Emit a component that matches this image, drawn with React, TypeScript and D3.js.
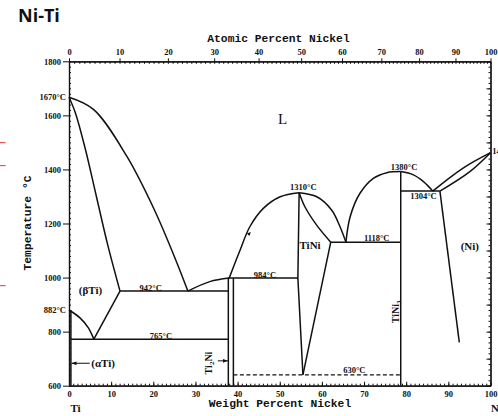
// Ni-Ti binary phase diagram, redrawn with D3.
import { useEffect, useRef } from "react";
import * as d3 from "d3";

type Pt = [number, number]; // [weight % Ni, temperature °C]

const WIDTH = 498;
const HEIGHT = 416;

// axis ticks
const WEIGHT_MAJOR = d3.range(0, 101, 10);
const WEIGHT_MINOR = d3.range(0, 101, 1);
const ATOMIC_MAJOR = d3.range(0, 101, 10);
const ATOMIC_MINOR = d3.range(0, 101, 1);
const TEMP_MAJOR = [600, 800, 1000, 1200, 1400, 1600, 1800];
const TEMP_MINOR = d3.range(600, 1801, 20);
const TEMP_RIGHT_MAJOR = d3.range(600, 1801, 100);

// phase boundaries
const tiLiquidus: Pt[] = [[0, 1667], [5.8, 1622], [13.7, 1449], [20.3, 1249], [25.3, 1066], [28.2, 950]];
const betaSolidus: Pt[] = [[0, 1667], [1.5, 1610], [3.8, 1480], [6.5, 1300], [9.2, 1120], [12.1, 950]];
const betaTransus: Pt[] = [[0, 880], [2.6, 851], [4.6, 814], [5.9, 772]];
const betaSolvus: Pt[] = [[5.9, 772], [12.1, 950]];
const alphaSolvus: Pt[] = [[0.45, 880], [0.45, 600]];
const eutectoid765: Pt[] = [[0.45, 772], [37.8, 772]];
const eutectic942: Pt[] = [[12.1, 950], [37.8, 950]];
const ti2NiLiquidus: Pt[] = [[28.2, 950], [33.4, 985], [38.0, 998]];
const ti2NiLeft: Pt[] = [[37.8, 998], [37.8, 600]];
const ti2NiRight: Pt[] = [[39.0, 998], [39.0, 600]];
const peritectic984: Pt[] = [[37.8, 998], [54.3, 998]];
const tiNiLiquidusLeft: Pt[] = [[38.0, 998], [40.6, 1102], [42.9, 1188], [46.1, 1256], [50.1, 1299], [54.6, 1314]];
const tiNiLiquidusRight: Pt[] = [[54.6, 1314], [58.8, 1299], [62.3, 1250], [64.3, 1188], [65.7, 1131]];
const tiNiLeft: Pt[] = [[54.6, 1314], [54.3, 998], [55.5, 640]];
const tiNiRightUpper: Pt[] = [[54.6, 1314], [56.0, 1261], [58.8, 1193], [62.1, 1131]];
const tiNiRightLower: Pt[] = [[62.1, 1131], [55.5, 640]];
const eutectic1118: Pt[] = [[62.1, 1131], [78.7, 1131]];
const tiNi3LiquidusLeft: Pt[] = [[65.7, 1131], [66.7, 1225], [69.0, 1311], [72.2, 1367], [75.4, 1388], [78.7, 1392]];
const tiNi3LiquidusRight: Pt[] = [[78.7, 1392], [81.7, 1380], [84.1, 1355], [86.3, 1320]];
const tiNi3Line: Pt[] = [[78.7, 1392], [78.7, 600]];
const eutectic1304: Pt[] = [[78.7, 1320], [88.0, 1320]];
const niSolvus: Pt[] = [[88.0, 1320], [92.6, 760]];
const niLiquidus: Pt[] = [[86.3, 1320], [93.5, 1405], [100, 1462]];
const niSolidus: Pt[] = [[88.0, 1320], [95.1, 1392], [100, 1462]];
const dashed630: Pt[] = [[39.0, 640], [78.7, 640]];

const curves: Pt[][] = [
  tiLiquidus, betaSolidus, betaTransus, ti2NiLiquidus, tiNiLiquidusLeft,
  tiNiLiquidusRight, tiNiRightUpper, tiNi3LiquidusLeft, tiNi3LiquidusRight,
  niLiquidus, niSolidus,
];
const straights: Pt[][] = [
  betaSolvus, alphaSolvus, eutectoid765, eutectic942, ti2NiLeft, ti2NiRight,
  peritectic984, tiNiLeft, tiNiRightLower, eutectic1118, tiNi3Line,
  eutectic1304, niSolvus,
];

// small labels: [text, w, T]
const isoLabels: [string, number, number][] = [
  ["942°C", 19.4, 960],
  ["765°C", 21.8, 782],
  ["984°C", 46.5, 1008],
  ["1310°C", 55.6, 1334],
  ["1118°C", 73.0, 1145],
  ["1380°C", 79.5, 1410],
  ["1304°C", 84.1, 1303],
  ["630°C", 67.7, 658],
];
const phaseLabels: [string, number, number][] = [
  ["(βTi)", 5.1, 954],
  ["TiNi", 57.2, 1120],
  ["(Ni)", 95.1, 1117],
  ["(αTi)", 8.1, 683],
];
const edgeLabels: [string, number][] = [["1670°C", 1667], ["882°C", 880]];
const redMarks = [1499, 1414, 970];

// atomic % Ni -> weight % Ni
const NI = 58.69;
const TI = 47.87;
const atToWt = (a: number) => (100 * a * NI) / (a * NI + (100 - a) * TI);

export default function App() {
  const svgRef = useRef<SVGSVGElement | null>(null);

  useEffect(() => {
    const svg = d3.select(svgRef.current);
    svg.selectAll("*").remove();

    const x = d3.scaleLinear().domain([0, 100]).range([69, 490.5]);
    const y = d3.scaleLinear().domain([600, 1800]).range([385.7, 61.3]);
    const serif = "'Liberation Serif', serif";
    const mono = "'Liberation Mono', monospace";

    svg.append("rect").attr("width", WIDTH).attr("height", HEIGHT).attr("fill", "#fff");

    const defs = svg.append("defs");
    defs
      .append("marker")
      .attr("id", "arr")
      .attr("viewBox", "0 0 8 6")
      .attr("refX", 8)
      .attr("refY", 3)
      .attr("markerWidth", 5)
      .attr("markerHeight", 4)
      .attr("orient", "auto")
      .append("path")
      .attr("d", "M0,0L8,3L0,6Z")
      .attr("fill", "#111");

    const styleAxis = (g: d3.Selection<SVGGElement, unknown, null, undefined>) => {
      g.attr("font-family", serif).attr("font-size", 8.5).attr("font-weight", "bold");
      g.selectAll("line").attr("stroke", "#111");
      g.selectAll("path").attr("stroke", "#111").attr("stroke-width", 1.2);
      g.selectAll("text").attr("fill", "#111");
    };

    // bottom (weight %)
    svg.append("g").attr("transform", "translate(0,385.7)")
      .call(d3.axisBottom(x).tickValues(WEIGHT_MINOR).tickSizeInner(-2).tickSizeOuter(0).tickFormat(() => ""))
      .call(styleAxis);
    svg.append("g").attr("transform", "translate(0,385.7)")
      .call(d3.axisBottom(x).tickValues(WEIGHT_MAJOR).tickSizeInner(-4).tickSizeOuter(0).tickPadding(5).tickFormat((d) => String(d)))
      .call(styleAxis);

    // top (atomic %)
    const xTop = (a: number) => atToWt(a);
    svg.append("g").attr("transform", "translate(0,61.3)")
      .call(d3.axisTop(x).tickValues(ATOMIC_MINOR.map(xTop)).tickSizeInner(-2.5).tickSizeOuter(0).tickFormat(() => ""))
      .call(styleAxis);
    svg.append("g").attr("transform", "translate(0,61.3)")
      .call(d3.axisTop(x).tickValues(ATOMIC_MAJOR.map(xTop)).tickSizeInner(3).tickSizeOuter(0).tickPadding(3)
        .tickFormat((_, i) => String(ATOMIC_MAJOR[i])))
      .call(styleAxis);

    // left (temperature)
    svg.append("g").attr("transform", "translate(69,0)")
      .call(d3.axisLeft(y).tickValues(TEMP_MINOR).tickSizeInner(-2).tickSizeOuter(0).tickFormat(() => ""))
      .call(styleAxis);
    svg.append("g").attr("transform", "translate(69,0)")
      .call(d3.axisLeft(y).tickValues(TEMP_MAJOR).tickSizeInner(6).tickSizeOuter(0).tickPadding(2).tickFormat((d) => String(d)))
      .call(styleAxis);

    // right
    svg.append("g").attr("transform", "translate(490.5,0)")
      .call(d3.axisRight(y).tickValues(TEMP_MINOR).tickSizeInner(-2).tickSizeOuter(0).tickFormat(() => ""))
      .call(styleAxis);
    svg.append("g").attr("transform", "translate(490.5,0)")
      .call(d3.axisRight(y).tickValues(TEMP_RIGHT_MAJOR).tickSizeInner(-4).tickSizeOuter(0).tickFormat(() => ""))
      .call(styleAxis);

    const smooth = d3.line<Pt>().x((d) => x(d[0])).y((d) => y(d[1])).curve(d3.curveCatmullRom.alpha(0.5));
    const straight = d3.line<Pt>().x((d) => x(d[0])).y((d) => y(d[1]));

    const lines = svg.append("g").attr("fill", "none").attr("stroke", "#111").attr("stroke-width", 1.5);
    for (const c of curves) lines.append("path").attr("d", smooth(c));
    for (const s of straights) lines.append("path").attr("d", straight(s));
    lines.append("path").attr("d", straight(dashed630)).attr("stroke-dasharray", "4,2.5").attr("stroke-width", 1.3);

    // arrow on the TiNi liquidus
    const ax = x(42.2), ay = y(1163);
    svg.append("path")
      .attr("d", `M${ax},${ay}l4,-1.5l-1.5,4z`)
      .attr("fill", "#111");

    // pointer arrows
    svg.append("line")
      .attr("x1", x(4.9)).attr("x2", x(0.6)).attr("y1", y(683)).attr("y2", y(683))
      .attr("stroke", "#111").attr("stroke-width", 1).attr("marker-end", "url(#arr)");
    svg.append("line")
      .attr("x1", x(35.3)).attr("x2", x(37.7)).attr("y1", y(692)).attr("y2", y(692))
      .attr("stroke", "#111").attr("stroke-width", 1).attr("marker-end", "url(#arr)");

    const txt = svg.append("g").attr("fill", "#111").attr("font-family", serif);
    for (const [t, w, T] of isoLabels) {
      txt.append("text").attr("x", x(w)).attr("y", y(T)).attr("dy", "0.35em")
        .attr("text-anchor", "middle").attr("font-size", 8.5).attr("font-weight", "bold").text(t);
    }
    for (const [t, w, T] of phaseLabels) {
      txt.append("text").attr("x", x(w)).attr("y", y(T)).attr("dy", "0.35em")
        .attr("text-anchor", "middle").attr("font-size", 11).attr("font-weight", "bold").text(t);
    }
    for (const [t, T] of edgeLabels) {
      txt.append("text").attr("x", 66).attr("y", y(T)).attr("dy", "0.35em")
        .attr("text-anchor", "end").attr("font-size", 8.5).attr("font-weight", "bold").text(t);
    }
    txt.append("text").attr("x", x(100.4)).attr("y", y(1468)).attr("dy", "0.35em")
      .attr("font-size", 8.5).attr("font-weight", "bold").text("1455°C");
    txt.append("text").attr("x", x(50.7)).attr("y", y(1589)).attr("dy", "0.35em")
      .attr("text-anchor", "middle").attr("font-size", 15).text("L");

    const ti2Ni = txt.append("text")
      .attr("transform", `translate(${x(33.1)},${y(684)}) rotate(-90)`)
      .attr("dy", "0.35em").attr("text-anchor", "middle").attr("font-size", 10).attr("font-weight", "bold");
    ti2Ni.append("tspan").text("Ti");
    ti2Ni.append("tspan").attr("font-size", 7).attr("dy", "2").text("2");
    ti2Ni.append("tspan").attr("dy", "-2").text("Ni");

    const tiNi3 = txt.append("text")
      .attr("transform", `translate(${x(77.5)},${y(873)}) rotate(-90)`)
      .attr("dy", "0.35em").attr("text-anchor", "middle").attr("font-size", 10).attr("font-weight", "bold");
    tiNi3.append("tspan").text("TiNi");
    tiNi3.append("tspan").attr("font-size", 7).attr("dy", "2").text("3");

    // element names under the axis
    txt.append("text").attr("x", 75.5).attr("y", 411.5).attr("text-anchor", "middle")
      .attr("font-size", 11).attr("font-weight", "bold").text("Ti");
    txt.append("text").attr("x", 491).attr("y", 411.5)
      .attr("font-size", 11).attr("font-weight", "bold").text("Ni");

    // axis titles
    svg.append("text").attr("x", 278.5).attr("y", 42).attr("text-anchor", "middle")
      .attr("font-family", mono).attr("font-size", 11.3).attr("font-weight", "bold").attr("fill", "#111")
      .text("Atomic Percent Nickel");
    svg.append("text").attr("x", 280).attr("y", 406.5).attr("text-anchor", "middle")
      .attr("font-family", mono).attr("font-size", 11.3).attr("font-weight", "bold").attr("fill", "#111")
      .text("Weight Percent Nickel");
    svg.append("text").attr("transform", "translate(31,223) rotate(-90)").attr("text-anchor", "middle")
      .attr("font-family", mono).attr("font-size", 11.3).attr("font-weight", "bold").attr("fill", "#111")
      .text("Temperature °C");

    svg.append("text").attr("x", 18).attr("y", 21.5)
      .attr("font-family", "'Open Sans', sans-serif").attr("font-size", 18).attr("font-weight", "bold")
      .attr("fill", "#111").text("Ni-Ti");

    // red edge marks on the scan
    svg.append("g").selectAll("line").data(redMarks).join("line")
      .attr("x1", 0).attr("x2", 5.7).attr("y1", (d) => y(d)).attr("y2", (d) => y(d))
      .attr("stroke", "#e03a3a").attr("stroke-width", 1);
  }, []);

  return (
    <svg
      ref={svgRef}
      width={WIDTH}
      height={HEIGHT}
      style={{ position: "absolute", left: 0, top: 0, display: "block" }}
    />
  );
}
